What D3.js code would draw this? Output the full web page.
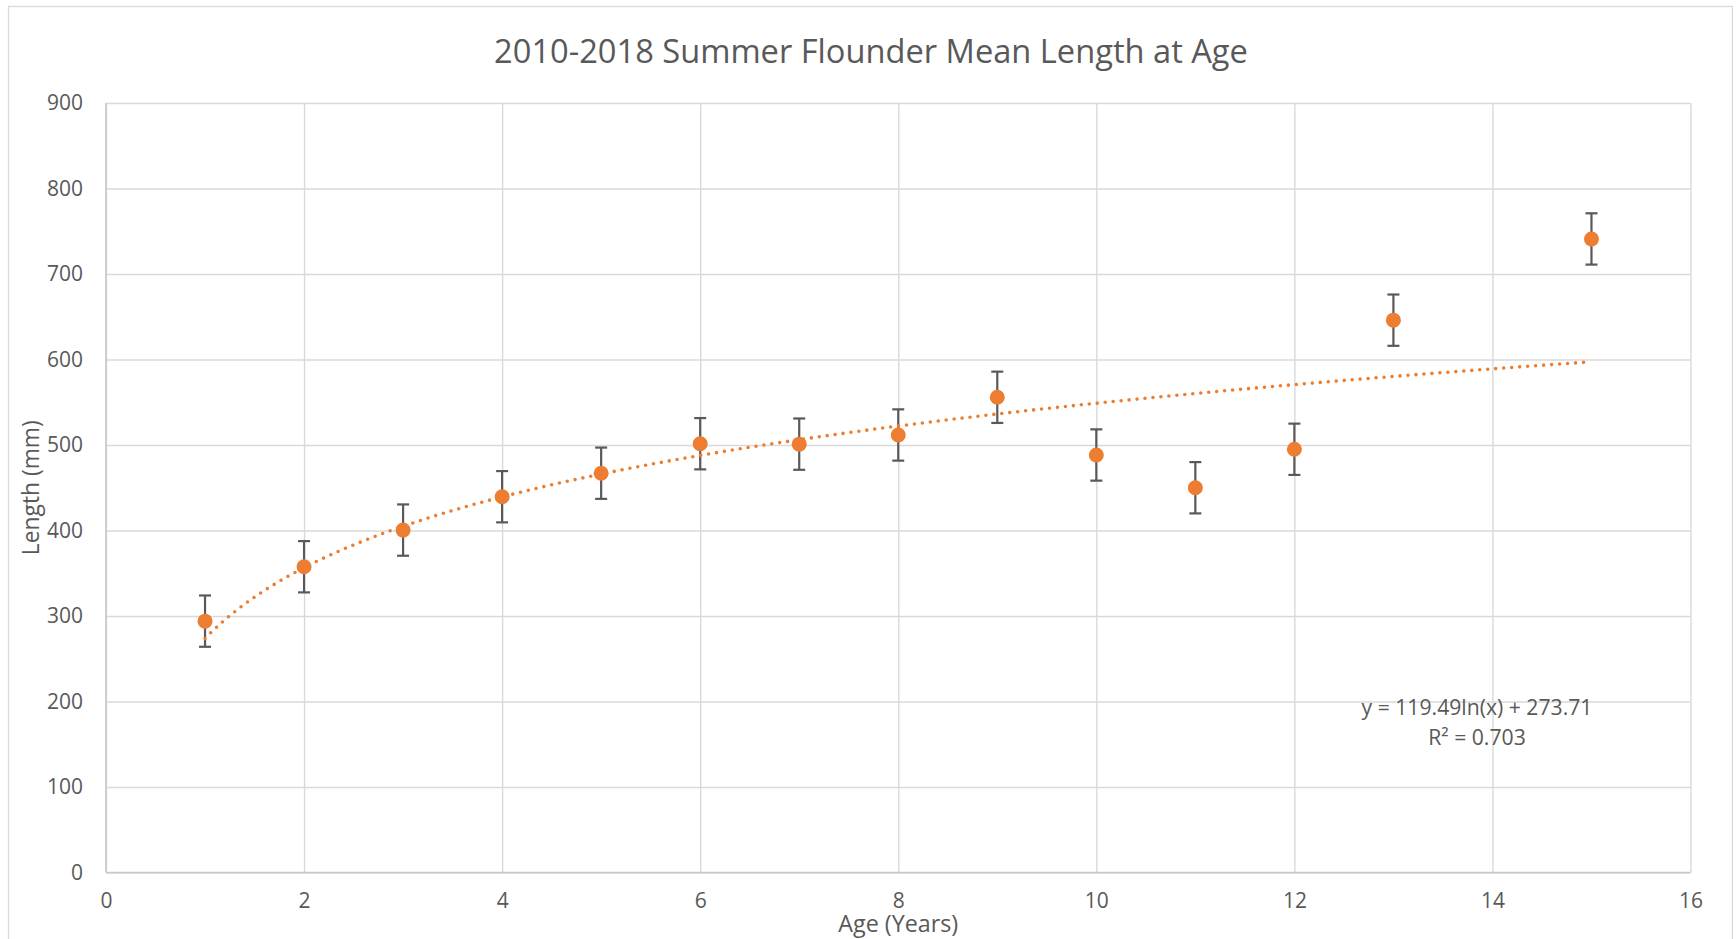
<!DOCTYPE html>
<html>
<head>
<meta charset="utf-8">
<script src="https://cdn.jsdelivr.net/npm/d3@7"></script>
<style>
  html, body { margin: 0; padding: 0; background: #fff; }
  svg { display: block; }
  text { font-family: "Open Sans", "Noto Sans", sans-serif; fill: #595959; }
</style>
</head>
<body>
<svg id="chart" width="1736" height="939"></svg>
<script>
// ---- data ----
const ages = [1, 2, 3, 4, 5, 6, 7, 8, 9, 10, 11, 12, 13, 15];
const meanLength = [294, 357.6, 400.5, 439.5, 467, 501.5, 501, 511.7, 555.8, 488.3, 450, 495, 646, 741];
const errorAmount = [30, 30, 30, 30, 30, 30, 30, 30, 30, 30, 30, 30, 30, 30];
const xTicks = [0, 2, 4, 6, 8, 10, 12, 14, 16];
const yTicks = [0, 100, 200, 300, 400, 500, 600, 700, 800, 900];
const trendCoef = { a: 119.49, b: 273.71 };   // y = a ln(x) + b
const trendRange = [1, 15];
const titleText = "2010-2018 Summer Flounder Mean Length at Age";
const xTitle = "Age (Years)";
const yTitle = "Length (mm)";
const eqLines = ["y = 119.49ln(x) + 273.71", "R² = 0.703"];

// ---- layout ----
const W = 1736, H = 939;
const plot = { left: 106, right: 1690.5, top: 103, bottom: 872.5 };
const orange = "#ED7D31";
const gridColor = "#d9d9d9";

const svg = d3.select("#chart");

// chart border
svg.append("rect")
  .attr("x", 8.5).attr("y", 6.5)
  .attr("width", 1724).attr("height", 960)
  .attr("fill", "#fff").attr("stroke", "#d9d9d9").attr("stroke-width", 1.3);

const x = d3.scaleLinear().domain([0, 16]).range([plot.left, plot.right]);
const y = d3.scaleLinear().domain([0, 900]).range([plot.bottom, plot.top]);

// gridlines + tick labels
const gY = svg.append("g").attr("transform", `translate(${plot.left},0)`)
  .call(d3.axisLeft(y).tickValues(yTicks).tickSize(-(plot.right - plot.left)).tickFormat(d3.format("d")).tickPadding(23));
gY.select(".domain").remove();
gY.selectAll(".tick line").attr("stroke", gridColor).attr("stroke-width", 1.4);
gY.selectAll(".tick text").attr("font-size", 21).attr("fill", "#595959")
  .style("font-family", '"Open Sans", sans-serif');

const gX = svg.append("g").attr("transform", `translate(0,${plot.bottom})`)
  .call(d3.axisBottom(x).tickValues(xTicks).tickSize(-(plot.bottom - plot.top)).tickFormat(d3.format("d")).tickPadding(21));
gX.select(".domain").remove();
gX.selectAll(".tick line").attr("stroke", gridColor).attr("stroke-width", 1.4);
gX.selectAll(".tick text").attr("font-size", 21).attr("fill", "#595959")
  .style("font-family", '"Open Sans", sans-serif');

// axis lines
svg.append("line").attr("x1", x(0)).attr("x2", x(0)).attr("y1", y(900)).attr("y2", y(0))
  .attr("stroke", "#c9c9c9").attr("stroke-width", 1.6);
svg.append("line").attr("x1", x(0)).attr("x2", x(16)).attr("y1", y(0)).attr("y2", y(0))
  .attr("stroke", "#c9c9c9").attr("stroke-width", 1.6);

const data = ages.map((a, i) => ({ age: a, len: meanLength[i], err: errorAmount[i] }));

// error bars
const eb = svg.append("g").attr("stroke", "#595959").attr("stroke-width", 2.2);
const capHalf = 6;
data.forEach(d => {
  eb.append("line").attr("x1", x(d.age)).attr("x2", x(d.age))
    .attr("y1", y(d.len - d.err)).attr("y2", y(d.len + d.err));
  eb.append("line").attr("x1", x(d.age) - capHalf).attr("x2", x(d.age) + capHalf)
    .attr("y1", y(d.len + d.err)).attr("y2", y(d.len + d.err));
  eb.append("line").attr("x1", x(d.age) - capHalf).attr("x2", x(d.age) + capHalf)
    .attr("y1", y(d.len - d.err)).attr("y2", y(d.len - d.err));
});

// trendline (logarithmic)
const trendX = d3.range(trendRange[0], trendRange[1] + 0.0001, 0.05);
const trendLine = d3.line()
  .x(t => x(t))
  .y(t => y(trendCoef.a * Math.log(t) + trendCoef.b))
  .curve(d3.curveLinear);
svg.append("path").datum(trendX)
  .attr("d", trendLine)
  .attr("fill", "none").attr("stroke", orange)
  .attr("stroke-width", 3.6).attr("stroke-linecap", "round")
  .attr("stroke-dasharray", "0 8");

// markers
svg.append("g").selectAll("circle").data(data).join("circle")
  .attr("cx", d => x(d.age)).attr("cy", d => y(d.len))
  .attr("r", 7.5).attr("fill", orange);

// helper: fit font size to target width
function fitWidth(sel, target, start) {
  let fs = start;
  sel.attr("font-size", fs);
  const w = sel.node().getComputedTextLength();
  if (w > 0) { fs = fs * target / w; sel.attr("font-size", fs); }
  return fs;
}

// title
const title = svg.append("text").attr("x", 871).attr("y", 63)
  .attr("text-anchor", "middle").text(titleText);
fitWidth(title, 754, 32);

// axis titles
const xt = svg.append("text").attr("x", (plot.left + plot.right) / 2).attr("y", 932)
  .attr("text-anchor", "middle").text(xTitle);
fitWidth(xt, 120, 22);

const yt = svg.append("text")
  .attr("transform", `translate(39,${(plot.top + plot.bottom) / 2}) rotate(-90)`)
  .attr("text-anchor", "middle").text(yTitle);
fitWidth(yt, 135, 22);

// equation label
const eq = svg.append("g");
const e1 = eq.append("text").attr("x", 1477).attr("y", 715).attr("text-anchor", "middle").text(eqLines[0]);
const fs = fitWidth(e1, 231, 20);
eq.append("text").attr("x", 1477).attr("y", 745).attr("text-anchor", "middle")
  .attr("font-size", fs).text(eqLines[1]);
</script>
</body>
</html>
